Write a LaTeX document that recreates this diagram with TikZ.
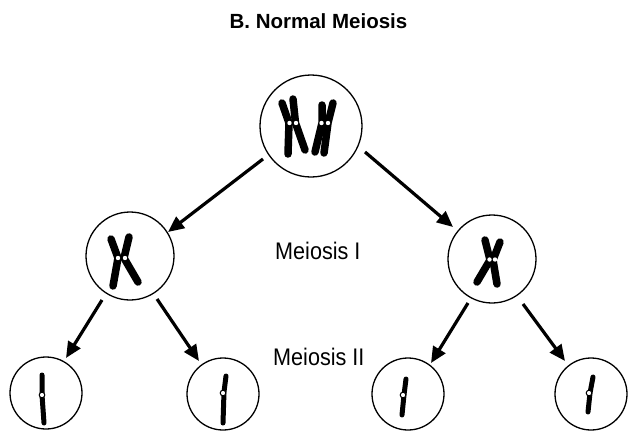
\documentclass[tikz,border=0pt]{standalone}
\usepackage{fontspec}
\setmainfont{Liberation Sans}
\newfontfamily\labelfont{Liberation Sans}[FakeStretch=0.9]
\usetikzlibrary{arrows.meta,calc}

\tikzset{
  cell/.style={circle, draw, line width=1.3pt, inner sep=0pt, outer sep=0pt},
  bigcell/.style={cell, minimum size=102pt},
  midcell/.style={cell, minimum size=88pt},
  smallcell/.style={cell, minimum size=72pt},
  division/.style={line width=3.2pt, -{Triangle[length=16pt,width=14pt]}},
  chromatid/.style={line width=7.5pt, line cap=round, line join=round},
  rod/.style={line width=5pt, line cap=round, line join=round},
  centromere/.style={fill=white, draw=none},
  kinetochore/.style={fill=white, draw=black, line width=1pt},
  steplabel/.style={anchor=base west, inner sep=0pt, font=\labelfont\fontsize{24}{24}\selectfont},
  heading/.style={anchor=base, inner sep=0pt, font=\bfseries\fontsize{20.5}{20.5}\selectfont}
}

\begin{document}
\begin{tikzpicture}[x=1pt, y=-1pt]
  \useasboundingbox (0,0) rectangle (628,434);

  % heading
  \node[heading] (title) at (318.5,28) {B. Normal Meiosis};

  % cells
  \node[bigcell]   (top) at (311,126) {};
  \node[midcell]   (ml)  at (130,256) {};
  \node[midcell]   (mr)  at (492,259) {};
  \node[smallcell] (b1)  at (46,393)  {};
  \node[smallcell] (b2)  at (223,394) {};
  \node[smallcell] (b3)  at (408,394) {};
  \node[smallcell] (b4)  at (591,394) {};

  % stage labels
  \node[steplabel] (m1) at (275,259) {Meiosis I};
  \node[steplabel] (m2) at (273,365) {Meiosis II};

  % division arrows
  \draw[division] ($(top)+(-48,33)$) -- ($(ml)+(38,-24)$);
  \draw[division] ($(top)+(54,26)$)  -- ($(mr)+(-39,-32)$);
  \draw[division] ($(ml)+(-28,44)$)  -- ($(b1)+(20,-35)$);
  \draw[division] ($(ml)+(27,43)$)   -- ($(b2)+(-24,-33)$);
  \draw[division] ($(mr)+(-24,44)$)  -- ($(b3)+(23,-31)$);
  \draw[division] ($(mr)+(31,45)$)   -- ($(b4)+(-26,-33)$);

  % parent cell: two paired chromosomes
  \draw[chromatid] (282,103) -- (289,123) -- (288,154);
  \draw[chromatid] (293,99) -- (295.5,123) -- (305,150);
  \draw[chromatid] (322,105) -- (322,123) -- (315,152);
  \draw[chromatid] (333,103) -- (328,123) -- (324,153);
  \fill[centromere] (289.5,123) circle (2.2) (296,123) circle (2.2);
  \fill[centromere] (321.5,123) circle (2.2) (328,123) circle (2.2);

  % after meiosis I
  \draw[chromatid] (111,239) -- (118,258) -- (113,286);
  \draw[chromatid] (129,237) -- (124,258) -- (138,282);
  \fill[centromere] (118,258) circle (2.2) (125,258) circle (2.2);

  \draw[chromatid] (485,240) -- (490,260) -- (477,282);
  \draw[chromatid] (500,242) -- (493,260) -- (497,284);
  \fill[centromere] (489.5,259.5) circle (2.2) (495,259.5) circle (2.2);

  % after meiosis II
  \draw[rod] (42,375) -- (42,395) -- (44,423);
  \draw[kinetochore] (42,395) circle (2.8);
  \draw[rod] (226,376) -- (224,392) -- (223,423);
  \draw[kinetochore] (223,393) circle (2.8);
  \draw[rod] (406,379) -- (404,395) -- (402,415);
  \draw[kinetochore] (403,395) circle (2.8);
  \draw[rod] (593,377) -- (590,393) -- (588,412);
  \draw[kinetochore] (589,393) circle (2.8);
\end{tikzpicture}
\end{document}
